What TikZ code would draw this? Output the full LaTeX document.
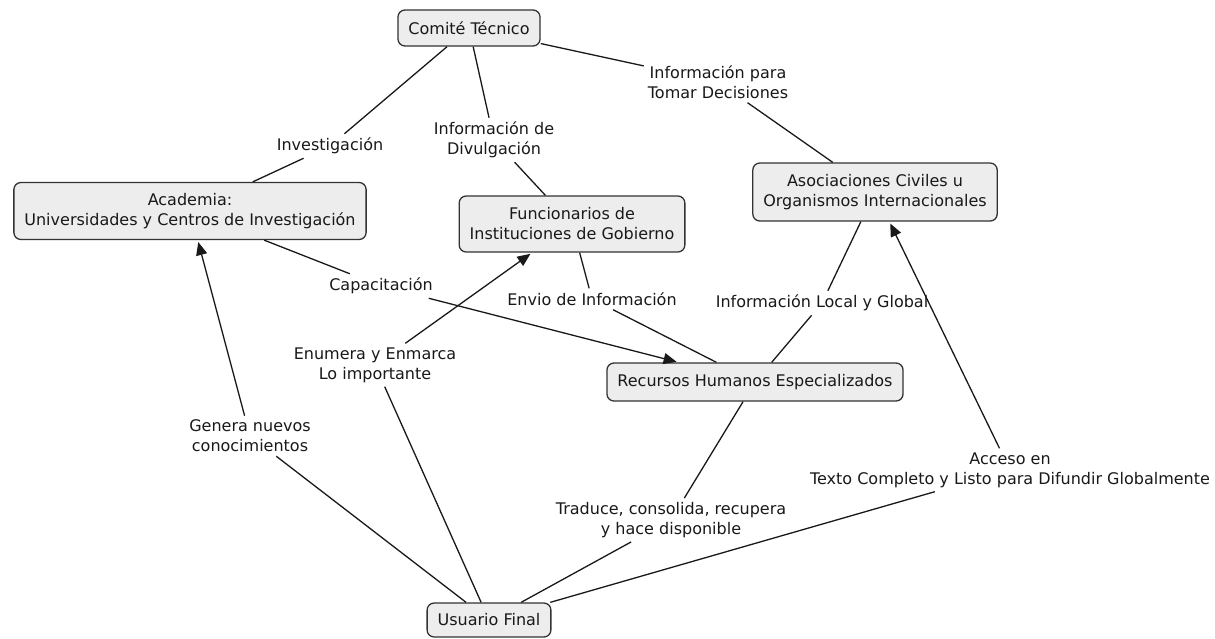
\documentclass[tikz,border=0pt]{standalone}
\usepackage{fontspec}
\setmainfont{DejaVu Sans}
\usetikzlibrary{arrows.meta}
\begin{document}
\begin{tikzpicture}[x=1pt,y=-1pt,
  concept/.style={draw=black!80, fill=black!7, line width=1.3pt, rounded corners=7pt,
    inner xsep=10.5pt, inner ysep=2pt, minimum height=36pt, align=center,
    font=\fontsize{16}{20}\selectfont, text=black!90},
  linkword/.style={inner sep=4pt, align=center, font=\fontsize{16}{20}\selectfont, text=black!90},
  conn/.style={draw=black!90, line width=1.3pt},
  arr/.style={-{Triangle[length=13pt,width=11pt]}, shorten >=2pt}
]
\fill[white] (0,0) rectangle (1215,638);
\useasboundingbox (0,0) rectangle (1215,638);

% concepts
\node[concept] (comite) at (469,28) {Comité Técnico};
\node[concept, minimum height=57pt] (academia) at (190,211) {Academia:\\Universidades y Centros de Investigación};
\node[concept, minimum height=56pt] (funcionarios) at (572,224) {Funcionarios de\\Instituciones de Gobierno};
\node[concept, minimum height=58pt] (asoc) at (875,192) {Asociaciones Civiles u\\Organismos Internacionales};
\node[concept, minimum height=38pt] (recursos) at (755,382) {Recursos Humanos Especializados};
\node[concept, minimum height=34pt] (usuario) at (489,620) {Usuario Final};

% linking phrases
\node[linkword] (invest) at (330,146) {Investigación};
\node[linkword] (divul) at (494,140) {Información de\\Divulgación};
\node[linkword] (tomar) at (718,82) {Información para\\Tomar Decisiones};
\node[linkword] (capac) at (381,286) {Capacitación};
\node[linkword] (envio) at (592,299) {Envio de Información};
\node[linkword] (local) at (822,303) {Información Local y Global};
\node[linkword] (enumera) at (375,365) {Enumera y Enmarca\\Lo importante};
\node[linkword] (genera) at (250,436) {Genera nuevos\\conocimientos};
\node[linkword] (traduce) at (671,520) {Traduce, consolida, recupera\\y hace disponible};
\node[linkword] (acceso) at (1010,470) {Acceso en\\Texto Completo y Listo para Difundir Globalmente};

% connectors
\draw[conn] (comite) -- (invest);
\draw[conn] (invest) -- (academia);
\draw[conn] (comite) -- (divul);
\draw[conn] (divul) -- (funcionarios);
\draw[conn] (comite) -- (tomar);
\draw[conn] (tomar) -- (asoc);
\draw[conn] (academia) -- (capac);
\draw[conn,arr] (capac) -- (recursos);
\draw[conn] (funcionarios) -- (envio);
\draw[conn] (envio) -- (recursos);
\draw[conn] (asoc) -- (local);
\draw[conn] (local) -- (recursos);
\draw[conn] (usuario) -- (enumera);
\draw[conn,arr] (enumera) -- (funcionarios);
\draw[conn] (usuario) -- (genera);
\draw[conn,arr] (genera) -- (academia);
\draw[conn] (recursos) -- (traduce);
\draw[conn] (traduce) -- (usuario);
\draw[conn] (usuario) -- (acceso);
\draw[conn,arr] (acceso) -- (asoc);
\end{tikzpicture}
\end{document}
